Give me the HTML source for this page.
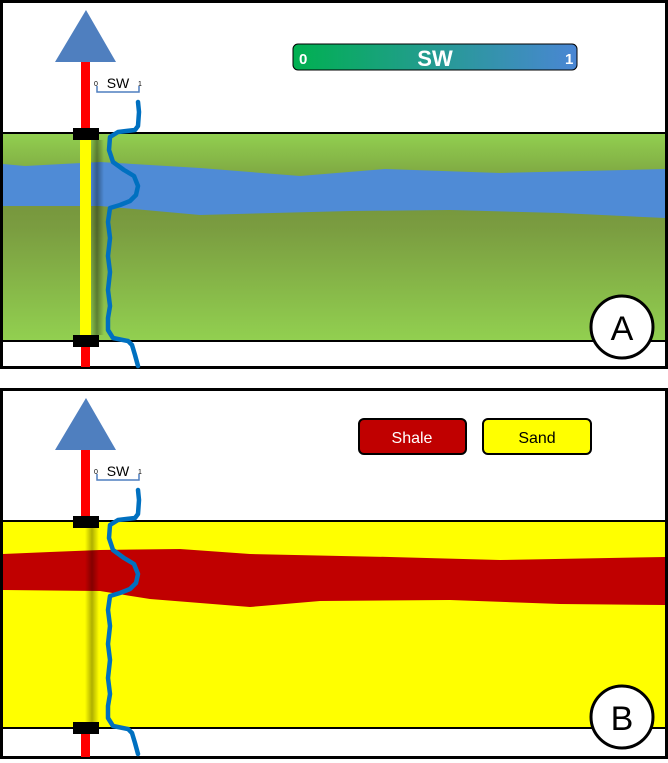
<!DOCTYPE html>
<html><head><meta charset="utf-8"><style>
html,body{margin:0;padding:0;background:#fff;}
svg{display:block;}
text{font-family:"Liberation Sans",sans-serif;}
</style></head><body>
<svg width="668" height="763" viewBox="0 0 668 763" xmlns="http://www.w3.org/2000/svg">
<defs>
<linearGradient id="gA" x1="0" y1="0" x2="0" y2="1">
<stop offset="0" stop-color="#92d050"/>
<stop offset="0.3" stop-color="#76953c"/>
<stop offset="0.45" stop-color="#7a9c40"/>
<stop offset="1" stop-color="#92d050"/>
</linearGradient>
<linearGradient id="gL" x1="0" y1="0" x2="1" y2="0">
<stop offset="0" stop-color="#00b050"/>
<stop offset="1" stop-color="#4a86d4"/>
</linearGradient>
<linearGradient id="sh" x1="0" y1="0" x2="1" y2="0">
<stop offset="0" stop-color="#000" stop-opacity="0"/>
<stop offset="0.5" stop-color="#000" stop-opacity="0.35"/>
<stop offset="1" stop-color="#000" stop-opacity="0"/>
</linearGradient>
</defs>

<!-- Panel A -->
<rect x="1.5" y="1.5" width="665" height="366" fill="#fff" stroke="#000" stroke-width="3"/>
<rect x="3" y="133" width="662" height="208" fill="url(#gA)"/>
<line x1="3" y1="133" x2="665" y2="133" stroke="#000" stroke-width="2"/>
<line x1="3" y1="341" x2="665" y2="341" stroke="#000" stroke-width="2"/>
<path d="M3,164 L25,166 L100,162 L200,168 L300,176 L385,169 L500,173 L665,169 L665,218 L560,213 L450,210 L350,211 L200,215 L100,206 L3,206 Z" fill="#4f8bd6"/>
<rect x="90" y="140" width="14" height="195" fill="url(#sh)"/>
<rect x="81" y="62" width="9" height="305" fill="#ff0000"/>
<rect x="80" y="139" width="11" height="196" fill="#ffff00"/>
<rect x="73" y="128" width="26" height="12" fill="#000"/>
<rect x="73" y="335" width="26" height="12" fill="#000"/>
<polygon points="86,10 55,62 116,62" fill="#4f7fbf"/>
<path d="M97,86 v6 h42 v-6" fill="none" stroke="#4f7fbf" stroke-width="1.5"/>
<text x="94" y="86" font-size="7" fill="#000">0</text>
<text x="138" y="86" font-size="7" fill="#000">1</text>
<text x="118" y="88" font-size="14" fill="#000" text-anchor="middle">SW</text>
<path id="curve" d="M138,102 L139,112 L138,126 L135,130 L118,132 L110,137 L109,150 L113,162 L124,170 L134,176 L138,186 L136,195 L130,201 L120,205 L110,208 L108,222 L110,238 L108,256 L110,272 L108,290 L110,306 L108,318 L108,330 L113,338 L128,341 L132,345 L135,355 L138,366" fill="none" stroke="#0070c0" stroke-width="4.5" stroke-linejoin="round" stroke-linecap="round"/>
<rect x="293" y="44" width="284" height="26" rx="5" fill="url(#gL)" stroke="#000" stroke-width="1"/>
<text x="299" y="64" font-size="15" font-weight="bold" fill="#fff">0</text>
<text x="435" y="66" font-size="22" font-weight="bold" fill="#fff" text-anchor="middle">SW</text>
<text x="565" y="64" font-size="15" font-weight="bold" fill="#fff">1</text>
<circle cx="622" cy="327" r="31" fill="#fff" stroke="#000" stroke-width="3"/>
<text x="622" y="340" font-size="34" fill="#000" text-anchor="middle">A</text>

<!-- Panel B -->
<rect x="1.5" y="389.5" width="665" height="368" fill="#fff" stroke="#000" stroke-width="3"/>
<rect x="3" y="521" width="662" height="207" fill="#ffff00"/>
<line x1="3" y1="521" x2="665" y2="521" stroke="#000" stroke-width="2"/>
<line x1="3" y1="728" x2="665" y2="728" stroke="#000" stroke-width="2"/>
<path d="M3,554 L50,552 L100,550 L180,549 L250,554 L390,557 L500,560 L665,557 L665,605 L560,604 L450,600 L320,601 L250,607 L150,599 L100,591 L3,590 Z" fill="#c00000"/>
<rect x="85" y="528" width="14" height="196" fill="url(#sh)" opacity="0.9"/>
<rect x="81" y="450" width="9" height="66" fill="#ff0000"/>
<rect x="81" y="733" width="9" height="24" fill="#ff0000"/>
<rect x="73" y="516" width="26" height="12" fill="#000"/>
<rect x="73" y="722" width="26" height="12" fill="#000"/>
<polygon points="86,398 55,450 116,450" fill="#4f7fbf"/>
<path d="M97,474 v6 h42 v-6" fill="none" stroke="#4f7fbf" stroke-width="1.5"/>
<text x="94" y="474" font-size="7" fill="#000">0</text>
<text x="138" y="474" font-size="7" fill="#000">1</text>
<text x="118" y="476" font-size="14" fill="#000" text-anchor="middle">SW</text>
<use href="#curve" transform="translate(0,388)"/>
<rect x="359" y="419" width="107" height="35" rx="5" fill="#c00000" stroke="#000" stroke-width="2"/>
<text x="412" y="443" font-size="16" fill="#fff" text-anchor="middle">Shale</text>
<rect x="483" y="419" width="108" height="35" rx="5" fill="#ffff00" stroke="#000" stroke-width="2"/>
<text x="537" y="443" font-size="16" fill="#000" text-anchor="middle">Sand</text>
<circle cx="622" cy="717" r="31" fill="#fff" stroke="#000" stroke-width="3"/>
<text x="622" y="730" font-size="34" fill="#000" text-anchor="middle">B</text>
</svg>
</body></html>
